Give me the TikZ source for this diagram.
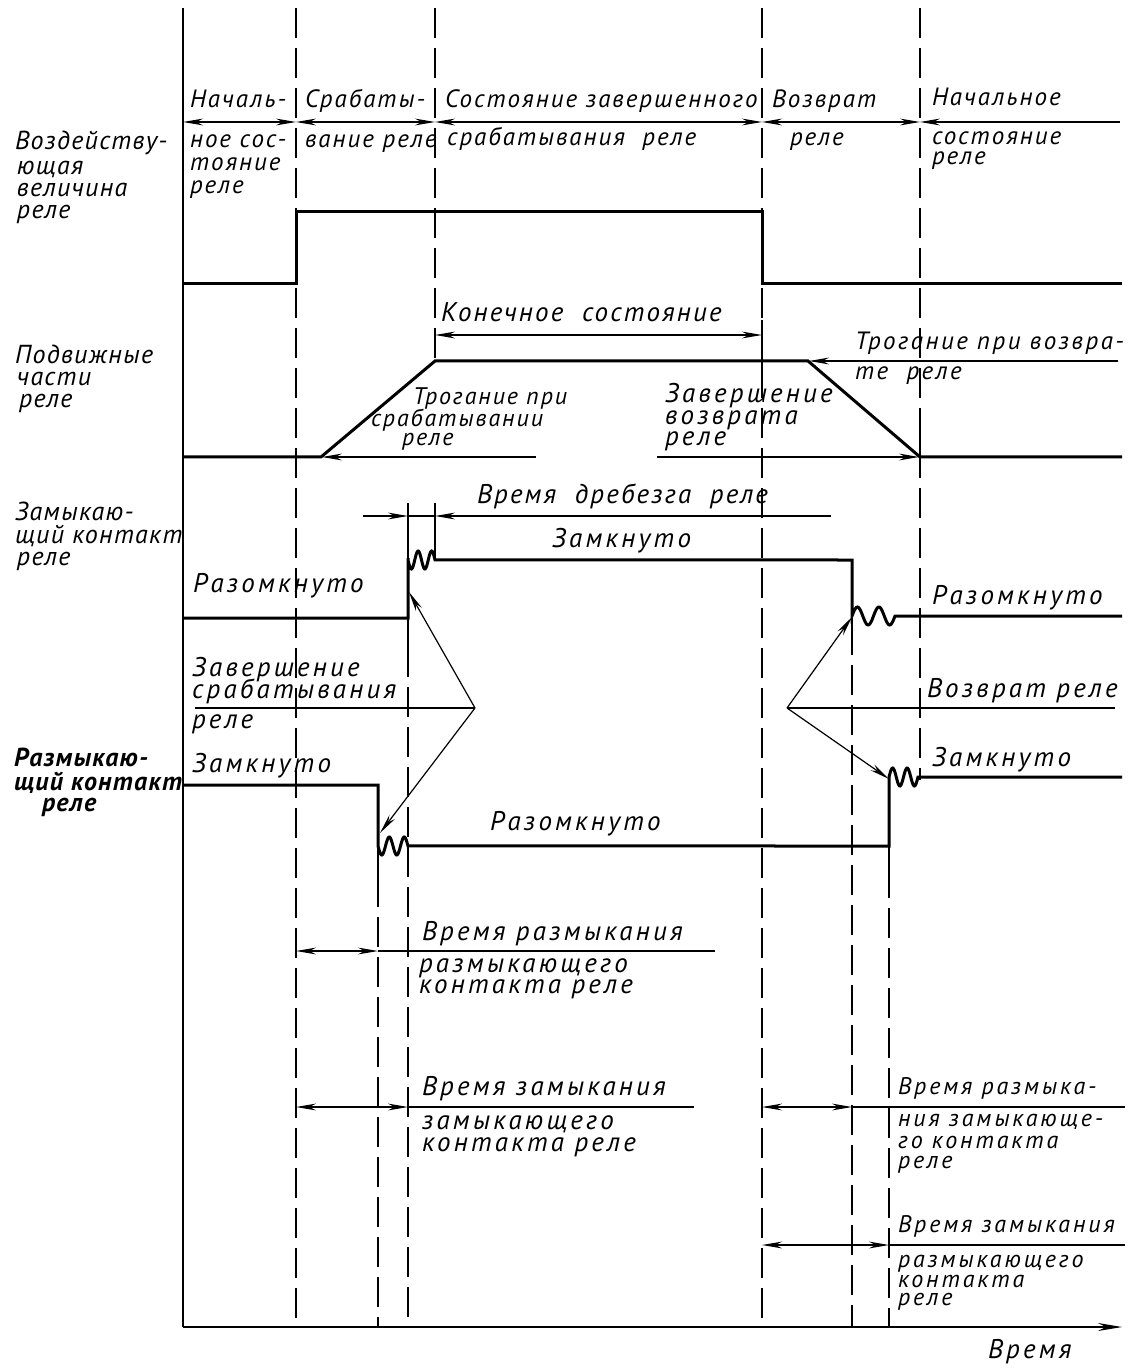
\documentclass[tikz,border=0pt]{standalone}
\usepackage{fontspec}
\setmainfont{PT Sans}
\newfontfamily\gA{PT Sans}
\newfontfamily\gB{PT Sans}[LetterSpace=8]
\newfontfamily\gC{PT Sans}[LetterSpace=12]
\newfontfamily\gD{PT Sans}[LetterSpace=5]
\newfontfamily\gE{PT Sans}[LetterSpace=10]
\usetikzlibrary{arrows.meta}
\newcommand\mylab[4]{\node[#1] (#2) at (#3) {#4};}
\begin{document}
\begin{tikzpicture}[x=0.5pt,y=-0.5pt,
  lab/.style={anchor=base west,inner sep=0pt,outer sep=0pt},
  side/.style={lab,font=\gD\itshape\fontsize{13}{13}\selectfont},
  sideb/.style={lab,font=\gD\bfseries\itshape\fontsize{13}{13}\selectfont},
  stage/.style={lab,font=\gB\itshape\fontsize{12.5}{12.5}\selectfont},
  note/.style={lab,font=\gC\itshape\fontsize{13.5}{13.5}\selectfont},
  notec/.style={lab,font=\gB\itshape\fontsize{13.5}{13.5}\selectfont},
  notes/.style={lab,font=\gE\itshape\fontsize{12.5}{12.5}\selectfont},
  small/.style={lab,font=\gB\itshape\fontsize{12}{12}\selectfont},
  smallw/.style={lab,font=\gC\itshape\fontsize{12}{12}\selectfont},
  sig/.style={line width=1.5pt,line join=miter},
  fine/.style={line width=0.6pt},
  vguide/.style={line width=0.6pt,dash pattern=on 15pt off 5pt},
  >={Stealth[length=10pt,width=3.4pt]}
]
\useasboundingbox (0,0) rectangle (1130,1368);

% ---- axes ----
\coordinate (o) at (183,1327);
\coordinate (top) at (183,8);
\coordinate (xend) at (1122,1327);
\draw[fine] (top) -- (o);
\draw[fine,-{Stealth[length=12pt,width=4pt]}] (o) -- (xend);

% ---- vertical guide lines ----
\draw[vguide] (296,8) -- (296,1327);
\draw[vguide] (435,8) -- (435,361);
\draw[vguide] (762,8) -- (762,1327);
\draw[vguide] (920,8) -- (920,780);
\draw[fine] (408,503) -- (408,647);
\draw[vguide] (408,647) -- (408,1327);
\draw[fine] (435,503) -- (435,561);
\draw[fine] (378,785) -- (378,877);
\draw[vguide] (378,877) -- (378,1327);
\draw[fine] (852,559) -- (852,625);
\draw[vguide] (852,625) -- (852,1327);
\draw[fine] (889,776) -- (889,868);
\draw[vguide] (889,868) -- (889,1327);
\draw[fine] (762,320) -- (762,372);
\draw[fine] (920,417) -- (920,477);

% ---- signal 1 ----
\draw[sig] (183,284) -- (296,284) -- (296,212) -- (762,212) -- (762,284) -- (1122,284);
% ---- signal 2 ----
\draw[sig] (183,457) -- (321,457) -- (435,361) -- (808,361) -- (920,457) -- (1122,457);
% ---- signal 3 ----
\draw[sig] (183,618) -- (408,618) -- (408,558)
  -- plot[domain=0:1,samples=40] ({408+27*\x},{560+9*sin(720*\x)}) -- (852,560) -- (852,616)
  -- plot[domain=0:1,samples=40] ({852+43*\x},{616-9*sin(720*\x)}) -- (1122,616);
% ---- signal 4 ----
\draw[sig] (183,785) -- (378,785) -- (378,846)
  -- plot[domain=0:1,samples=40] ({378+30*\x},{846+9*sin(720*\x)}) -- (889,846) -- (889,777)
  -- plot[domain=0:1,samples=40] ({889+29*\x},{777-9*sin(720*\x)}) -- (1122,777);

% ---- stage dimension line ----
\draw[fine,<->] (183,122) -- (296,122);
\draw[fine,<->] (296,122) -- (435,122);
\draw[fine,<->] (435,122) -- (762,122);
\draw[fine,<->] (762,122) -- (920,122);
\draw[fine,<-] (920,122) -- (1120,122);

% ---- moving parts ----
\draw[fine,<->] (435,335) -- (762,335);
\draw[fine,->] (536,457) -- (322,457);
\draw[fine,->] (1118,361) -- (809,361);
\draw[fine,->] (657,457) -- (919,457);

% ---- bounce ----
\draw[fine,->] (363,516) -- (408,516);
\draw[fine] (408,516) -- (435,516);
\draw[fine,->] (831,516) -- (435,516);

% ---- pick-up completion / return pointers ----
\coordinate (pa) at (475,708);
\draw[fine] (195,708) -- (pa);
\draw[fine,->] (pa) -- (409,592);
\draw[fine,->] (pa) -- (380,833);
\coordinate (pb) at (787,708);
\draw[fine] (1115,708) -- (pb);
\draw[fine,->] (pb) -- (852,617);
\draw[fine,->] (pb) -- (889,779);

% ---- time dimensions ----
\draw[fine,<->] (296,951) -- (378,951);
\draw[fine] (378,951) -- (715,951);
\draw[fine,<->] (296,1107) -- (408,1107);
\draw[fine] (408,1107) -- (694,1107);
\draw[fine,<->] (762,1107) -- (852,1107);
\draw[fine] (852,1107) -- (1125,1107);
\draw[fine,<->] (762,1245) -- (889,1245);
\draw[fine] (889,1245) -- (1125,1245);

% ---- side labels ----
\mylab{side}{l1}{15,150}{Воздейству-}
\mylab{side}{l2}{17,175}{ющая}
\mylab{side}{l3}{17,197}{величина}
\mylab{side}{l4}{17,219}{реле}
\mylab{side}{l5}{15,364}{Подвижные}
\mylab{side}{l6}{17,386}{части}
\mylab{side}{l7}{19,408}{реле}
\mylab{side}{l8}{15,520}{Замыкаю-}
\mylab{side}{l9}{15,543}{щий контакт}
\mylab{side}{l10}{17,565}{реле}
\mylab{sideb}{l11}{14,766}{Размыкаю-}
\mylab{sideb}{l12}{14,790}{щий контакт}
\mylab{sideb}{l13}{42,811}{реле}

% ---- stage labels ----
\mylab{stage}{s1}{190,108}{Началь-}
\mylab{stage}{s2}{190,148}{ное сос-}
\mylab{stage}{s3}{190,171}{тояние}
\mylab{stage}{s4}{190,194}{реле}
\mylab{stage}{s5}{305,108}{Срабаты-}
\mylab{stage}{s6}{305,148}{вание реле}
\mylab{stage}{s7}{445,108}{Состояние завершенного}
\mylab{stage}{s8}{447,146}{срабатывания\ \ реле}
\mylab{stage}{s9}{772,108}{Возврат}
\mylab{stage}{s10}{790,146}{реле}
\mylab{stage}{s11}{932,106}{Начальное}
\mylab{stage}{s12}{932,145}{состояние}
\mylab{stage}{s13}{932,165}{реле}

% ---- notes ----
\mylab{notec}{n1}{441,322}{Конечное\ \ состояние}
\mylab{small}{n2}{413,405}{Трогание при}
\mylab{small}{n3}{371,427}{срабатывании}
\mylab{small}{n4}{402,446}{реле}
\mylab{notes}{n5}{855,350}{Трогание при возвра-}
\mylab{notes}{n6}{855,380}{те\ \ реле}
\mylab{note}{n7}{665,403}{Завершение}
\mylab{note}{n8}{665,425}{возврата}
\mylab{note}{n9}{665,446}{реле}
\mylab{notec}{n10}{477,503}{Время\ \ дребезга\ \ реле}
\mylab{note}{n11}{552,547}{Замкнуто}
\mylab{note}{n12}{193,592}{Разомкнуто}
\mylab{note}{n13}{932,604}{Разомкнуто}
\mylab{note}{n14}{192,676}{Завершение}
\mylab{note}{n15}{192,698}{срабатывания}
\mylab{note}{n16}{192,728}{реле}
\mylab{note}{n17}{192,772}{Замкнуто}
\mylab{note}{n18}{927,697}{Возврат реле}
\mylab{note}{n19}{932,766}{Замкнуто}
\mylab{note}{n20}{490,830}{Разомкнуто}
\mylab{note}{n21}{422,940}{Время размыкания}
\mylab{note}{n22}{419,972}{размыкающего}
\mylab{note}{n23}{419,993}{контакта реле}
\mylab{note}{n24}{422,1095}{Время замыкания}
\mylab{note}{n25}{422,1129}{замыкающего}
\mylab{note}{n26}{422,1151}{контакта реле}
\mylab{smallw}{n27}{898,1094}{Время размыка-}
\mylab{smallw}{n28}{898,1126}{ния замыкающе-}
\mylab{smallw}{n29}{898,1148}{го контакта}
\mylab{smallw}{n30}{898,1168}{реле}
\mylab{smallw}{n31}{898,1232}{Время замыкания}
\mylab{smallw}{n32}{898,1267}{размыкающего}
\mylab{smallw}{n33}{898,1287}{контакта}
\mylab{smallw}{n34}{898,1305}{реле}
\mylab{note}{n35}{988,1358}{Время}
\end{tikzpicture}
\end{document}
